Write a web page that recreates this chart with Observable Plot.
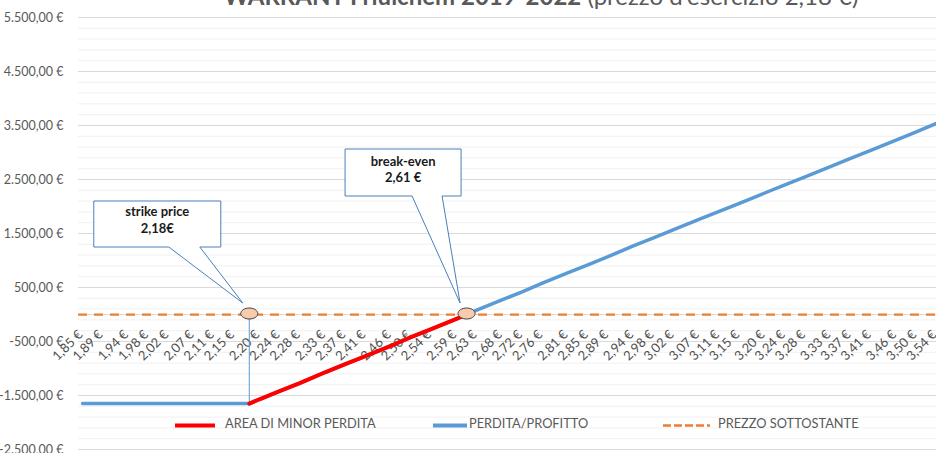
<!DOCTYPE html>
<html><head><meta charset="utf-8">
<script src="https://cdn.jsdelivr.net/npm/d3@7"></script>
<script src="https://cdn.jsdelivr.net/npm/@observablehq/plot@0.6"></script>
<style>
html,body{margin:0;padding:0;background:#fff;}
#wrap{position:relative;width:936px;height:453px;overflow:hidden;font-family:Lato,"Liberation Sans",sans-serif;}
#chart{position:absolute;left:0;top:0;}
.ov{position:absolute;left:0;top:0;pointer-events:none;}
#edge{position:absolute;left:3px;top:0;width:1px;height:453px;background:#e4e4e4;}
</style></head>
<body><div id="wrap"><div id="edge"></div><div id="chart"></div></div>
<script>
// ---- data ----
const titleBold = "WARRANT Friulchem 2019-2022";
const titleRest = " (prezzo d'esercizio 2,18 €)";
const categories = [1.85,1.89,1.94,1.98,2.02,2.07,2.11,2.15,2.20,2.24,2.28,2.33,2.37,2.41,2.46,2.50,2.54,2.59,2.63,2.68,2.72,2.76,2.81,2.85,2.89,2.94,2.98,3.02,3.07,3.11,3.15,3.20,3.24,3.28,3.33,3.37,3.41,3.46,3.50,3.54];
const profitPrices = [1.85,1.89,1.94,1.98,2.02,2.07,2.11,2.15,2.18,2.20,2.24,2.28,2.33,2.37,2.41,2.46,2.50,2.54,2.59,2.61,2.63,2.68,2.72,2.76,2.81,2.85,2.89,2.94,2.98,3.02,3.07,3.11,3.15,3.20,3.24,3.28,3.33,3.37,3.41,3.46,3.50,3.54];
const profitValues = [-1650,-1650,-1650,-1650,-1650,-1650,-1650,-1650,-1650,-1570,-1420,-1270,-1070,-920,-770,-580,-420,-270,-80,0,80,270,420,580,770,920,1070,1270,1420,1570,1760,1910,2060,2250,2400,2550,2740,2890,3040,3230,3380,3540];
const reducedLossPrices = [2.18,2.20,2.24,2.28,2.33,2.37,2.41,2.46,2.50,2.54,2.59,2.61];
const reducedLossValues = [-1650,-1570,-1420,-1270,-1070,-920,-770,-580,-420,-270,-80,0];
const underlyingLevel = 0;
const strikePrice = 2.18;
const breakEvenPrice = 2.61;
const maxLoss = -1650;
const yTicks = [-2500,-1500,-500,500,1500,2500,3500,4500,5500];
const seriesNames = ["AREA DI MINOR PERDITA","PERDITA/PROFITTO","PREZZO SOTTOSTANTE"];
const calloutLabels = [["strike price","2,18€"],["break-even","2,61 €"]];
const calloutPrices = [strikePrice, breakEvenPrice];

// ---- build ----
const profit = profitPrices.map((p,i)=>({p, v: profitValues[i]}));
const reduced = reducedLossPrices.map((p,i)=>({p, v: reducedLossValues[i]}));
const callouts = calloutPrices.map((p,i)=>({p, v: underlyingLevel, lines: calloutLabels[i]}));
const minorTicks = d3.range(-2500, 5501, 200).filter(v => !yTicks.includes(v));

const fmtPrice = d => d3.format(".2f")(d).replace(".", ",") + " €";
const fmtEuro = d => {
  const s = d3.format(",.2f")(Math.abs(d)).replace(/,/g, "#").replace(".", ",").replace(/#/g, ".");
  return (d < 0 ? "-" : "") + s + " €";
};

const GRAY = "#595959";
const BLUE = "#5b9bd5";
const ORANGE = "#ed7d31";
const FONT = "Lato, 'Liberation Sans', sans-serif";

const ellipse = {draw(ctx){ const rx=8.5, ry=5.5, k=0.5523;
  ctx.moveTo(rx,0);
  ctx.bezierCurveTo(rx, ry*k, rx*k, ry, 0, ry);
  ctx.bezierCurveTo(-rx*k, ry, -rx, ry*k, -rx, 0);
  ctx.bezierCurveTo(-rx, -ry*k, -rx*k, -ry, 0, -ry);
  ctx.bezierCurveTo(rx*k, -ry, rx, -ry*k, rx, 0);
  ctx.closePath(); }};

// callout geometry relative to anchor point (pixels)
const calloutShapes = [
  {l:-155, r:-28, t:-113, b:-67, p1:-80, p2:-49, tx:-6, ty:-11, l1:-101, l2:-84},
  {l:-121, r:-5, t:-165, b:-118, p1:-54, p2:-24, tx:-6, ty:-11, l1:-151, l2:-135}
];

function calloutMark(index, scales) {
  const g = d3.create("svg:g");
  callouts.forEach((c, i) => {
    const s = calloutShapes[i];
    const ax = scales.x(c.p), ay = scales.y(c.v);
    const pts = [[s.l,s.t],[s.r,s.t],[s.r,s.b],[s.p2,s.b],[s.tx,s.ty],[s.p1,s.b],[s.l,s.b]]
      .map(([dx,dy]) => [ax+dx, ay+dy]);
    g.append("path").attr("d", "M" + pts.map(q=>q.join(",")).join("L") + "Z")
      .attr("fill", "#fff").attr("stroke", "#4a7ebb").attr("stroke-width", 1);
    const cx = ax + (s.l + s.r)/2;
    [s.l1, s.l2].forEach((dy, j) => {
      g.append("text").attr("x", cx).attr("y", ay + dy).attr("text-anchor","middle")
        .attr("dominant-baseline","middle").attr("font-size", 13).attr("font-weight", 700)
        .attr("fill", "#1a1a1a").attr("font-family", FONT).text(c.lines[j]);
    });
  });
  return g.node();
}

const chart = Plot.plot({
  width: 936, height: 453,
  marginLeft: 78, marginRight: 0, marginTop: 17, marginBottom: 4,
  style: {fontFamily: FONT, fontSize: "12px", color: GRAY, background: "#fff"},
  x: {domain: [1.842, 3.54], axis: null},
  y: {domain: [-2500, 5500]},
  marks: [
    Plot.ruleY(minorTicks, {stroke: "#f0f0f0", strokeWidth: 1}),
    Plot.ruleY(yTicks, {stroke: "#d9d9d9", strokeWidth: 1}),
    Plot.ruleY([underlyingLevel], {stroke: "#d9d9d9", strokeWidth: 1}),
    Plot.axisY({ticks: yTicks, tickFormat: fmtEuro, tickSize: 0, tickPadding: 15, label: null, fill: GRAY, fontSize: 12.5}),
    Plot.text(categories, {x: d => d, y: underlyingLevel, text: fmtPrice, rotate: -45, textAnchor: "end", dx: -2, dy: 18, fill: "#505050", fontSize: 13}),
    Plot.ruleY([underlyingLevel], {stroke: ORANGE, strokeWidth: 2.25, strokeDasharray: "9,7"}),
    Plot.ruleX([strikePrice], {y1: underlyingLevel, y2: maxLoss, stroke: BLUE, strokeWidth: 1}),
    Plot.line(profit, {x: "p", y: "v", stroke: BLUE, strokeWidth: 3.5}),
    Plot.line(reduced, {x: "p", y: "v", stroke: "#ff0000", strokeWidth: 4}),
    calloutMark,
    Plot.dot(callouts, {x: "p", y: "v", symbol: ellipse, r: 5, fill: "#f8cbad", stroke: "#404040", strokeWidth: 1, dy: -1})
  ]
});
document.getElementById("chart").appendChild(chart);

// title (cropped at top like the reference)
const wrap = document.getElementById("wrap");
const ov = d3.select(wrap).append("svg").attr("class","ov").attr("width",936).attr("height",453);
const t = ov.append("text").attr("x", 541).attr("y", 5).attr("text-anchor","middle")
  .attr("font-size", 24).attr("fill", GRAY).attr("font-family", FONT);
t.append("tspan").attr("font-weight",700).text(titleBold);
t.append("tspan").text(titleRest);

// legend inside chart area
const legendItems = [
  {name: seriesNames[0], color: "#ff0000", dash: null, w: 4, x0: 175, x1: 215, tx: 225},
  {name: seriesNames[1], color: BLUE, dash: null, w: 4, x0: 433, x1: 467, tx: 469},
  {name: seriesNames[2], color: ORANGE, dash: "8,3", w: 2.5, x0: 663, x1: 710, tx: 718}
];
legendItems.forEach(it => {
  const ln = ov.append("line").attr("x1", it.x0).attr("x2", it.x1).attr("y1", 425.5).attr("y2", 425.5)
    .attr("stroke", it.color).attr("stroke-width", it.w);
  if (it.dash) ln.attr("stroke-dasharray", it.dash);
  ov.append("text").attr("x", it.tx).attr("y", 425).attr("dominant-baseline","middle")
    .attr("font-size", 12.8).attr("fill", GRAY).attr("font-family", FONT)
    .text(it.name);
});
</script>
</body></html>
